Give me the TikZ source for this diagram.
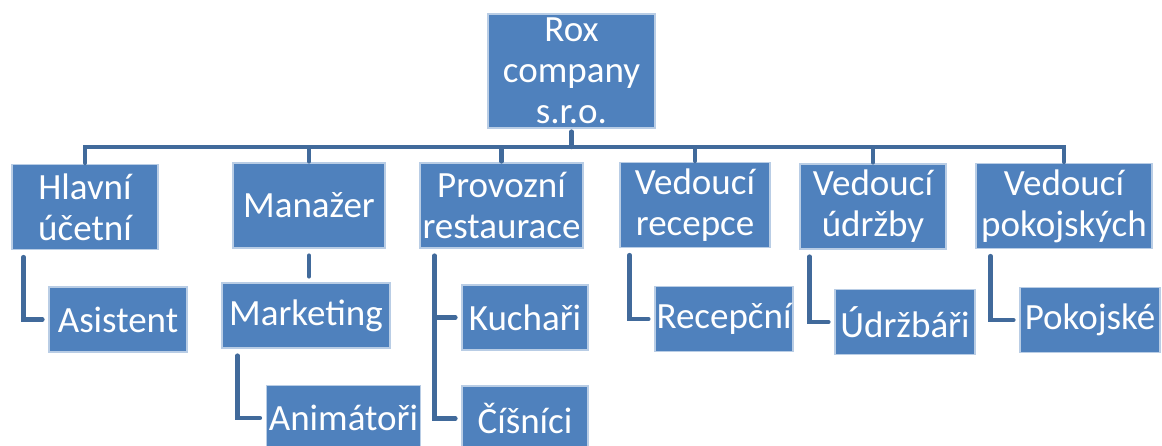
\documentclass[tikz,border=0pt]{standalone}
\usepackage{fontspec}
\setmainfont{Carlito}
\definecolor{boxblue}{RGB}{79,129,189}
\definecolor{boxedge}{RGB}{185,205,229}
\definecolor{linkblue}{RGB}{65,106,155}

\begin{document}
\begin{tikzpicture}[%
        x = 0.5pt,
        y = -0.5pt,
        line cap = round,
        unit/.style = {%
            rectangle,
            fill = boxblue,
            draw = boxedge,
            line width = 0.6pt,
            text = white,
            align = center,
            inner sep = 0pt,
            font = \fontsize{18.5}{20.5}\selectfont
        },
        link/.style = {%
            draw = linkblue,
            line width = 2.2pt
        }
    ]

        % Fix the page to the size of the reference.
        \useasboundingbox (0, 0) rectangle (1162, 445);

        % The company at the top.
        \node[unit, minimum width = 83.5pt, minimum height = 57pt]
            (rox) at (571.5, 71) {Rox\\company\\s.r.o.};

        % Heads of the departments.
        \begin{scope}[every node/.append style = {minimum height = 42.5pt}]
            \node[unit, minimum width = 73pt] (hlavni) at (85, 207) {Hlavní\\účetní};
            \node[unit, minimum width = 76pt] (manazer) at (309, 205.5) {Manažer};
            \node[unit, minimum width = 81.5pt] (provozni) at (501.5, 205.5) {Provozní\\restaurace};
            \node[unit, minimum width = 75pt] (recepce) at (695, 205) {Vedoucí\\recepce};
            \node[unit, minimum width = 73pt] (udrzby) at (873, 206.5) {Vedoucí\\údržby};
            \node[unit, minimum width = 88pt] (pokojskych) at (1064, 206) {Vedoucí\\pokojských};
        \end{scope}

        % Staff under the heads.
        \begin{scope}[every node/.append style = {minimum height = 32.5pt}]
            \node[unit, minimum width = 69pt] (asistent) at (118, 319.5) {Asistent};
            \node[unit, minimum width = 84pt] (marketing) at (306, 315.5) {Marketing};
            \node[unit, minimum width = 77pt] (animatori) at (343.5, 418) {Animátoři};
            \node[unit, minimum width = 63pt] (kuchari) at (525, 317.5) {Kuchaři};
            \node[unit, minimum width = 63pt] (cisnici) at (525, 418.5) {Číšníci};
            \node[unit, minimum width = 69pt] (recepcni) at (724, 319) {Recepční};
            \node[unit, minimum width = 70pt] (udrzbari) at (905, 322) {Údržbáři};
            \node[unit, minimum width = 70pt] (pokojske) at (1090, 320) {Pokojské};
        \end{scope}

        % The bus under the company.
        \coordinate (bus) at (571.5, 147);
        \begin{scope}[link]
            \draw ([yshift = -1.5pt]rox.south) -- (bus);
            \foreach \head in {hlavni, manazer, provozni, recepce, udrzby, pokojskych}
                \draw (bus) -| ([yshift = 0.5pt]\head.north);
        \end{scope}

        % Lines from the heads down to their staff.
        \begin{scope}[link]
            \draw ([xshift = 6pt, yshift = -3.5pt]hlavni.south west) |- ([xshift = -3pt]asistent.west);
            \draw ([yshift = -3.5pt]manazer.south) -- ([yshift = 3pt]manazer.south |- marketing.north);
            \draw ([xshift = 8pt, yshift = -3.5pt]marketing.south west) |- ([xshift = -3pt]animatori.west);
            \draw ([xshift = 7.5pt, yshift = -3.5pt]provozni.south west) |- ([xshift = -3pt]cisnici.west);
            \draw ([xshift = 7.5pt]provozni.south west |- kuchari.west) -- ([xshift = -3pt]kuchari.west);
            \draw ([xshift = 5pt, yshift = -3.5pt]recepce.south west) |- ([xshift = -3pt]recepcni.west);
            \draw ([xshift = 5pt, yshift = -3.5pt]udrzby.south west) |- ([xshift = -3pt]udrzbari.west);
            \draw ([xshift = 7.5pt, yshift = -3.5pt]pokojskych.south west) |- ([xshift = -3pt]pokojske.west);
        \end{scope}
    \end{tikzpicture}
\end{document}
